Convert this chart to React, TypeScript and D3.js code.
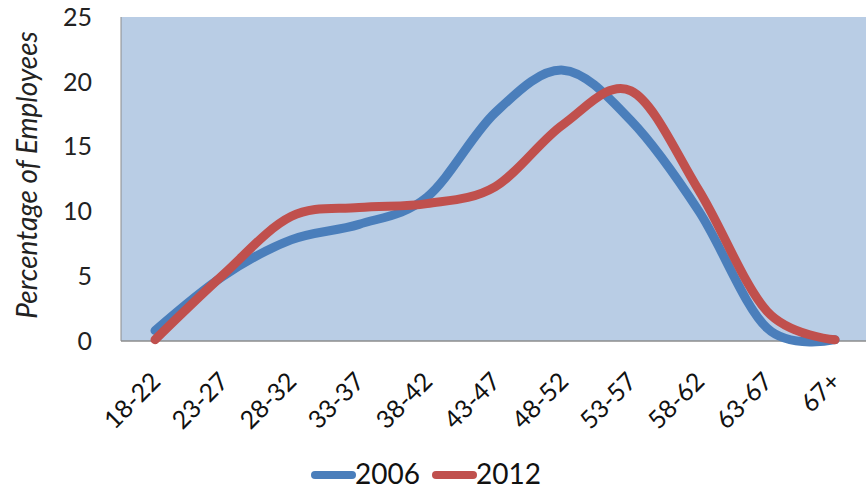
import React from "react";
import * as d3 from "d3";

const categories = ["18-22", "23-27", "28-32", "33-37", "38-42", "43-47", "48-52", "53-57", "58-62", "63-67", "67+"];
const series2006 = [0.8, 5.0, 7.8, 9.0, 11.1, 17.6, 20.9, 17.0, 10.0, 1.0, 0.1];
const series2012 = [0.1, 5.1, 9.6, 10.3, 10.6, 11.9, 16.7, 19.3, 11.6, 2.3, 0.1];
const yTicks = [0, 5, 10, 15, 20, 25];
const seriesNames = ["2006", "2012"];
const colors = ["#4A7EBB", "#C0504D"];

export default function App() {
  const W = 866, H = 489;
  const plot = { left: 121, right: 869, top: 17, bottom: 341 };
  const x = d3.scaleBand<string>().domain(categories).range([plot.left, plot.right]);
  const cx = (c: string) => (x(c) as number) + x.bandwidth() / 2;
  const y = d3.scaleLinear().domain([0, 25]).range([plot.bottom, plot.top]);
  const line = d3
    .line<number>()
    .x((_, i) => cx(categories[i]))
    .y((d) => y(d))
    .curve(d3.curveCardinal.tension(0));
  const data = [series2006, series2012];
  const font = "Lato, 'Open Sans', sans-serif";
  return (
    <svg width={W} height={H} style={{ position: "absolute", left: 0, top: 0, background: "#fff" }}>
      <defs>
        <clipPath id="pc">
          <rect x={plot.left} y={plot.top - 10} width={W - plot.left} height={plot.bottom - plot.top + 20} />
        </clipPath>
      </defs>
      <rect x={plot.left} y={plot.top} width={W - plot.left} height={plot.bottom - plot.top} fill="#B9CDE5" />
      <line x1={plot.left} x2={plot.left} y1={plot.top} y2={plot.bottom} stroke="#8C8C8C" strokeWidth={1} />
      <line x1={plot.left} x2={W} y1={plot.bottom} y2={plot.bottom} stroke="#8C8C8C" strokeWidth={1.5} />
      {yTicks.map((t) => (
        <text key={t} x={92} y={y(t)} dy="0.35em" textAnchor="end" fontFamily={font} fontSize={25} fill="#222">
          {t}
        </text>
      ))}
      <text
        transform={`translate(37,175) rotate(-90)`}
        textAnchor="middle"
        fontFamily={font}
        fontStyle="italic"
        fontSize={28}
        fill="#222"
      >
        Percentage of Employees
      </text>
      {categories.map((c) => (
        <text
          key={c}
          transform={`translate(${cx(c) + 7},${plot.bottom + 42}) rotate(-45)`}
          textAnchor="end"
          fontFamily={font}
          fontSize={25}
          fill="#111"
        >
          {c}
        </text>
      ))}
      <g clipPath="url(#pc)">
        {data.map((s, i) => (
          <path key={i} d={line(s) || ""} fill="none" stroke={colors[i]} strokeWidth={9} strokeLinecap="round" strokeLinejoin="round" />
        ))}
      </g>
      {seriesNames.map((n, i) => {
        const lx = 315 + i * 121;
        return (
          <g key={n}>
            <line x1={lx} x2={lx + 37} y1={475} y2={475} stroke={colors[i]} strokeWidth={8} strokeLinecap="round" />
            <text x={lx + 40} y={484} fontFamily={font} fontSize={28} fill="#111">
              {n}
            </text>
          </g>
        );
      })}
    </svg>
  );
}
